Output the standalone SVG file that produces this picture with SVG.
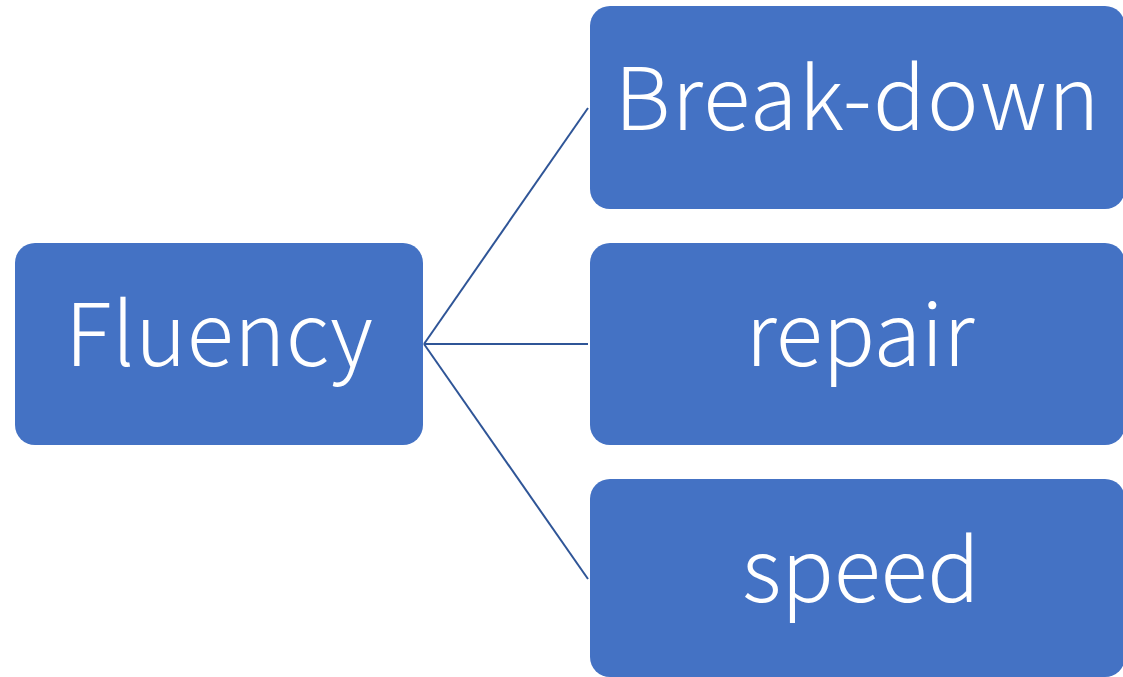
<svg xmlns="http://www.w3.org/2000/svg" width="1123" height="677" viewBox="0 0 1123 677">
<style>
.box{fill:#4472C4;}
.lbl{fill:#FFFFFF;font-family:"Noto Sans CJK JP","Noto Sans",sans-serif;font-size:87px;font-weight:300;text-anchor:middle;}
.con{stroke:#2F5597;stroke-width:2;fill:none;}
</style>
<rect width="1123" height="677" fill="#FFFFFF"/>
<g id="connectors">
<line class="con" x1="424" y1="344" x2="588" y2="108"/>
<line class="con" x1="424" y1="344" x2="588" y2="344"/>
<line class="con" x1="424" y1="344" x2="588" y2="579"/>
</g>
<g id="fluency">
<rect class="box" x="15" y="243" width="408" height="202" rx="20"/>
<text class="lbl" x="219" y="366" textLength="308" lengthAdjust="spacing">Fluency</text>
</g>
<g id="breakdown">
<rect class="box" x="590" y="6" width="535" height="203" rx="20"/>
<text class="lbl" x="857" y="130" textLength="485" lengthAdjust="spacing">Break-down</text>
</g>
<g id="repair">
<rect class="box" x="590" y="243" width="535" height="202" rx="20"/>
<text class="lbl" x="860" y="366" textLength="229" lengthAdjust="spacing">repair</text>
</g>
<g id="speed">
<rect class="box" x="590" y="479" width="535" height="198" rx="20"/>
<text class="lbl" x="861" y="602" textLength="238" lengthAdjust="spacing">speed</text>
</g>
</svg>
